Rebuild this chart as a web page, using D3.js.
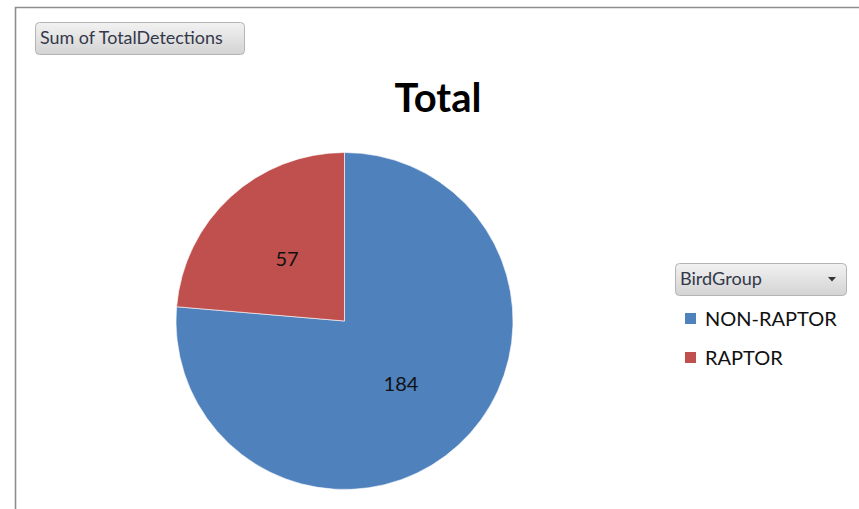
<!DOCTYPE html>
<html>
<head>
<meta charset="utf-8">
<script src="https://cdn.jsdelivr.net/npm/d3@7"></script>
<style>
  html, body { margin: 0; padding: 0; background: #fff; }
  svg { display: block; font-family: Lato, "Open Sans", sans-serif; }
</style>
</head>
<body>
<svg id="chart" width="859" height="509"></svg>
<script>
// Pivot chart: sum of detections per bird group
const categories = ["NON-RAPTOR", "RAPTOR"];
const detections = [184, 57];
const sliceColors = ["#4F81BD", "#C0504D"];
const chartTitle = "Total";
const valueFieldLabel = "Sum of TotalDetections";
const legendFieldLabel = "BirdGroup";

const svg = d3.select("#chart");
const W = 859, H = 509;

// chart frame (top and left edges visible)
svg.append("path")
  .attr("d", `M15.5,${H} V7.5 H${W}`)
  .attr("fill", "none")
  .attr("stroke", "#8e8e8e")
  .attr("stroke-width", 1.6);

// gradient used by the field buttons
const defs = svg.append("defs");
const grad = defs.append("linearGradient")
  .attr("id", "btnGrad").attr("x1", 0).attr("y1", 0).attr("x2", 0).attr("y2", 1);
grad.append("stop").attr("offset", "0%").attr("stop-color", "#f2f2f2");
grad.append("stop").attr("offset", "100%").attr("stop-color", "#d3d3d3");

function fieldButton(x, y, w, h, label, textWidth, withArrow) {
  const g = svg.append("g").attr("transform", `translate(${x},${y})`);
  g.append("rect")
    .attr("x", 0.5).attr("y", 0.5)
    .attr("width", w).attr("height", h)
    .attr("rx", 4).attr("ry", 4)
    .attr("fill", "url(#btnGrad)")
    .attr("stroke", "#b4b4b4");
  const t = g.append("text")
    .attr("x", 5).attr("y", h / 2 + 1)
    .attr("dominant-baseline", "middle")
    .attr("fill", "#33384a")
    .attr("font-size", 17)
    .text(label);
  // fit label to its run length
  const len = t.node().getComputedTextLength();
  t.attr("font-size", 17 * textWidth / len);
  if (withArrow) {
    const ax = w - 14, ay = h / 2;
    g.append("path")
      .attr("d", `M${ax - 4},${ay - 2} L${ax + 4},${ay - 2} L${ax},${ay + 2.5} Z`)
      .attr("fill", "#333");
  }
}

fieldButton(35, 22, 209, 32, valueFieldLabel, 183, false);

// title
svg.append("text")
  .attr("x", 438).attr("y", 112)
  .attr("text-anchor", "middle")
  .attr("font-weight", "bold")
  .attr("font-size", 40)
  .attr("fill", "#000")
  .text(chartTitle);

// pie
const cx = 344.5, cy = 321, radius = 168.5;
const pie = d3.pie().sort(null).value(d => d);
const arcs = pie(detections);
const arc = d3.arc().innerRadius(0).outerRadius(radius);

const pg = svg.append("g").attr("transform", `translate(${cx},${cy})`);
pg.selectAll("path.slice")
  .data(arcs)
  .join("path")
  .attr("class", "slice")
  .attr("d", arc)
  .attr("fill", (d, i) => sliceColors[i])
  .attr("stroke", "#fff")
  .attr("stroke-width", 0.6);

const labelPos = [[401, 386], [287, 261]];
pg.selectAll("text.val")
  .data(arcs)
  .join("text")
  .attr("class", "val")
  .attr("x", (d, i) => labelPos[i][0] - cx)
  .attr("y", (d, i) => labelPos[i][1] - cy)
  .attr("text-anchor", "middle")
  .attr("dominant-baseline", "middle")
  .attr("font-size", 20)
  .attr("fill", "#111")
  .text(d => d.data);

// legend
fieldButton(675, 263, 171, 32, legendFieldLabel, 82, true);

const lg = svg.append("g");
const legendRows = [318.5, 357.5];
categories.forEach((c, i) => {
  lg.append("rect")
    .attr("x", 685).attr("y", legendRows[i] - 5.5)
    .attr("width", 11).attr("height", 11)
    .attr("fill", sliceColors[i]);
  lg.append("text")
    .attr("x", 705).attr("y", legendRows[i] + 7)
    .attr("font-size", 20)
    .attr("fill", "#111")
    .text(c);
});
</script>
</body>
</html>
